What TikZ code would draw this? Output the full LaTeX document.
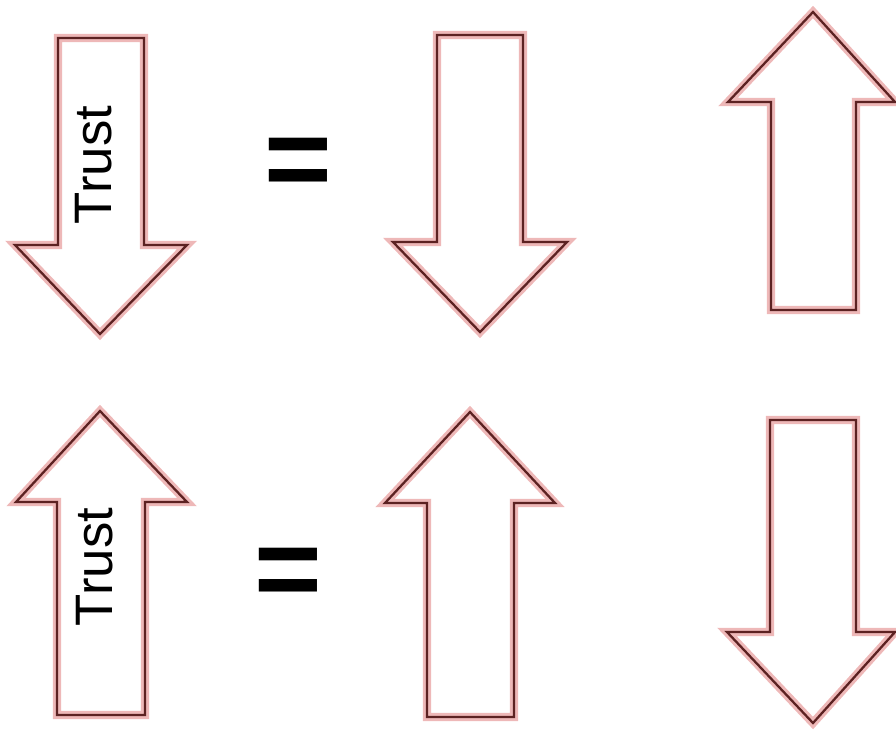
\documentclass[tikz,border=0pt]{standalone}
\usepackage{fontspec}
\setmainfont{Liberation Sans}
\usepackage{tikz}
\usetikzlibrary{positioning}

\definecolor{glowpink}{RGB}{238,184,184}
\definecolor{rimdark}{RGB}{92,34,34}

\tikzset{
    glow/.style={draw=glowpink, line width=4.8pt, line join=miter, fill=white},
    rim/.style={draw=rimdark, line width=1.3pt, line join=miter},
    trustlabel/.style={rotate=90, font=\fontsize{30}{31}\selectfont, inner sep=0pt},
    equals/.style={font=\fontsize{66}{66}\selectfont\bfseries, inner sep=0pt}
}

\begin{document}
\begin{tikzpicture}[x=0.02cm, y=-0.02cm]
    \useasboundingbox (0,0) rectangle (896,731);

    % top row
    \path[glow] (58,38) -- (144,38) -- (144,245) -- (187,245) -- (100,334) -- (15,245) -- (58,245) -- cycle;
    \draw[rim] (58,38) -- (144,38) -- (144,245) -- (187,245) -- (100,334) -- (15,245) -- (58,245) -- cycle;
    \node[trustlabel] (trustdown) at (94,165) {Trust};

    \node[equals] (eqtop) at (298,168) {=};

    \path[glow] (437,35) -- (523,35) -- (523,242) -- (567,242) -- (480,332) -- (393,242) -- (437,242) -- cycle;
    \draw[rim] (437,35) -- (523,35) -- (523,242) -- (567,242) -- (480,332) -- (393,242) -- (437,242) -- cycle;

    \path[glow] (813,12) -- (895,102) -- (856,102) -- (856,310) -- (771,310) -- (771,102) -- (728,102) -- cycle;
    \draw[rim] (813,12) -- (895,102) -- (856,102) -- (856,310) -- (771,310) -- (771,102) -- (728,102) -- cycle;

    % bottom row
    \path[glow] (100,411) -- (187,502) -- (145,502) -- (145,715) -- (57,715) -- (57,502) -- (16,502) -- cycle;
    \draw[rim] (100,411) -- (187,502) -- (145,502) -- (145,715) -- (57,715) -- (57,502) -- (16,502) -- cycle;
    \node[trustlabel] (trustup) at (95,567) {Trust};

    \node[equals] (eqbottom) at (288,578) {=};

    \path[glow] (470,412) -- (555,503) -- (514,503) -- (514,717) -- (427,717) -- (427,503) -- (385,503) -- cycle;
    \draw[rim] (470,412) -- (555,503) -- (514,503) -- (514,717) -- (427,717) -- (427,503) -- (385,503) -- cycle;

    \path[glow] (770,420) -- (856,420) -- (856,632) -- (895,632) -- (813,723) -- (727,632) -- (770,632) -- cycle;
    \draw[rim] (770,420) -- (856,420) -- (856,632) -- (895,632) -- (813,723) -- (727,632) -- (770,632) -- cycle;
\end{tikzpicture}
\end{document}
